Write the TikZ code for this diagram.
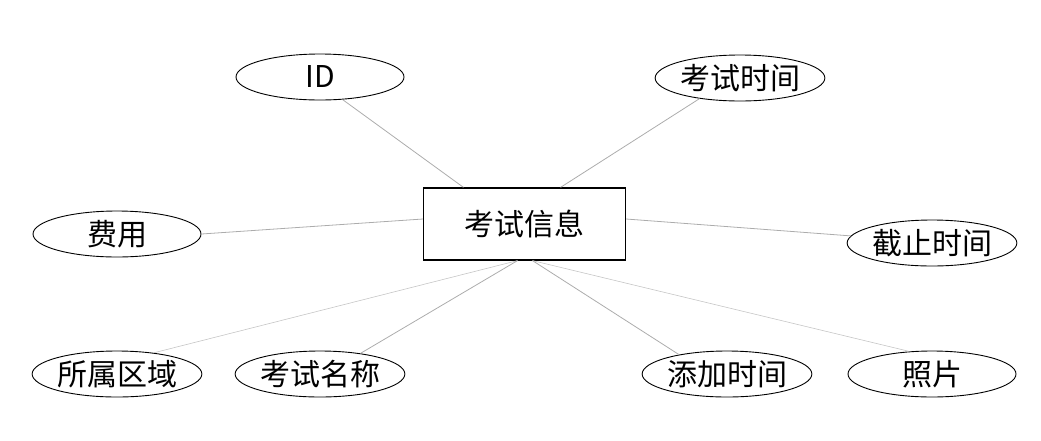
\documentclass[tikz,border=0pt]{standalone}
\usepackage{fontspec}
\newfontfamily\cjk{Noto Sans CJK SC}
\usetikzlibrary{shapes.geometric}
\tikzset{
  attr/.style={ellipse, draw=black, line width=0.9pt, minimum width=168pt, minimum height=46pt, inner sep=0pt, font=\cjk\fontsize{30}{34}\selectfont},
  entity/.style={rectangle, draw=black, line width=1.2pt, minimum width=202pt, minimum height=72pt, inner sep=0pt, font=\cjk\fontsize{30}{34}\selectfont},
  link/.style={draw=gray!65, line width=0.8pt},
  faint/.style={draw=gray!45, line width=0.6pt}
}
\begin{document}
\begin{tikzpicture}[x=1pt,y=-1pt]
\useasboundingbox (0,0) rectangle (1041,440);
\node[entity] (c) at (524.5,224) {考试信息};
\node[attr] (id) at (320,77) {ID};
\node[attr] (kssj) at (740,78) {考试时间};
\node[attr] (fy) at (117,234) {费用};
\node[attr] (jzsj) at (932,243) {截止时间};
\node[attr] (ssqy) at (117,374) {所属区域};
\node[attr] (ksmc) at (320,374) {考试名称};
\node[attr] (tjsj) at (727,374) {添加时间};
\node[attr] (zp) at (932,374) {照片};
\draw[link] (id.-45) -- ([xshift=-61pt]c.north);
\draw[link] (kssj.-153) -- ([xshift=36pt]c.north);
\draw[link] (fy.0) -- ([yshift=5pt]c.west);
\draw[link] (jzsj.175) -- ([yshift=5pt]c.east);
\draw[faint] (ssqy.30) -- ([xshift=-7pt]c.south);
\draw[link] (ksmc.27) -- ([xshift=-7pt]c.south);
\draw[link] (tjsj.158) -- ([xshift=8pt]c.south);
\draw[faint] (zp.135) -- ([xshift=8pt]c.south);
\end{tikzpicture}
\end{document}
